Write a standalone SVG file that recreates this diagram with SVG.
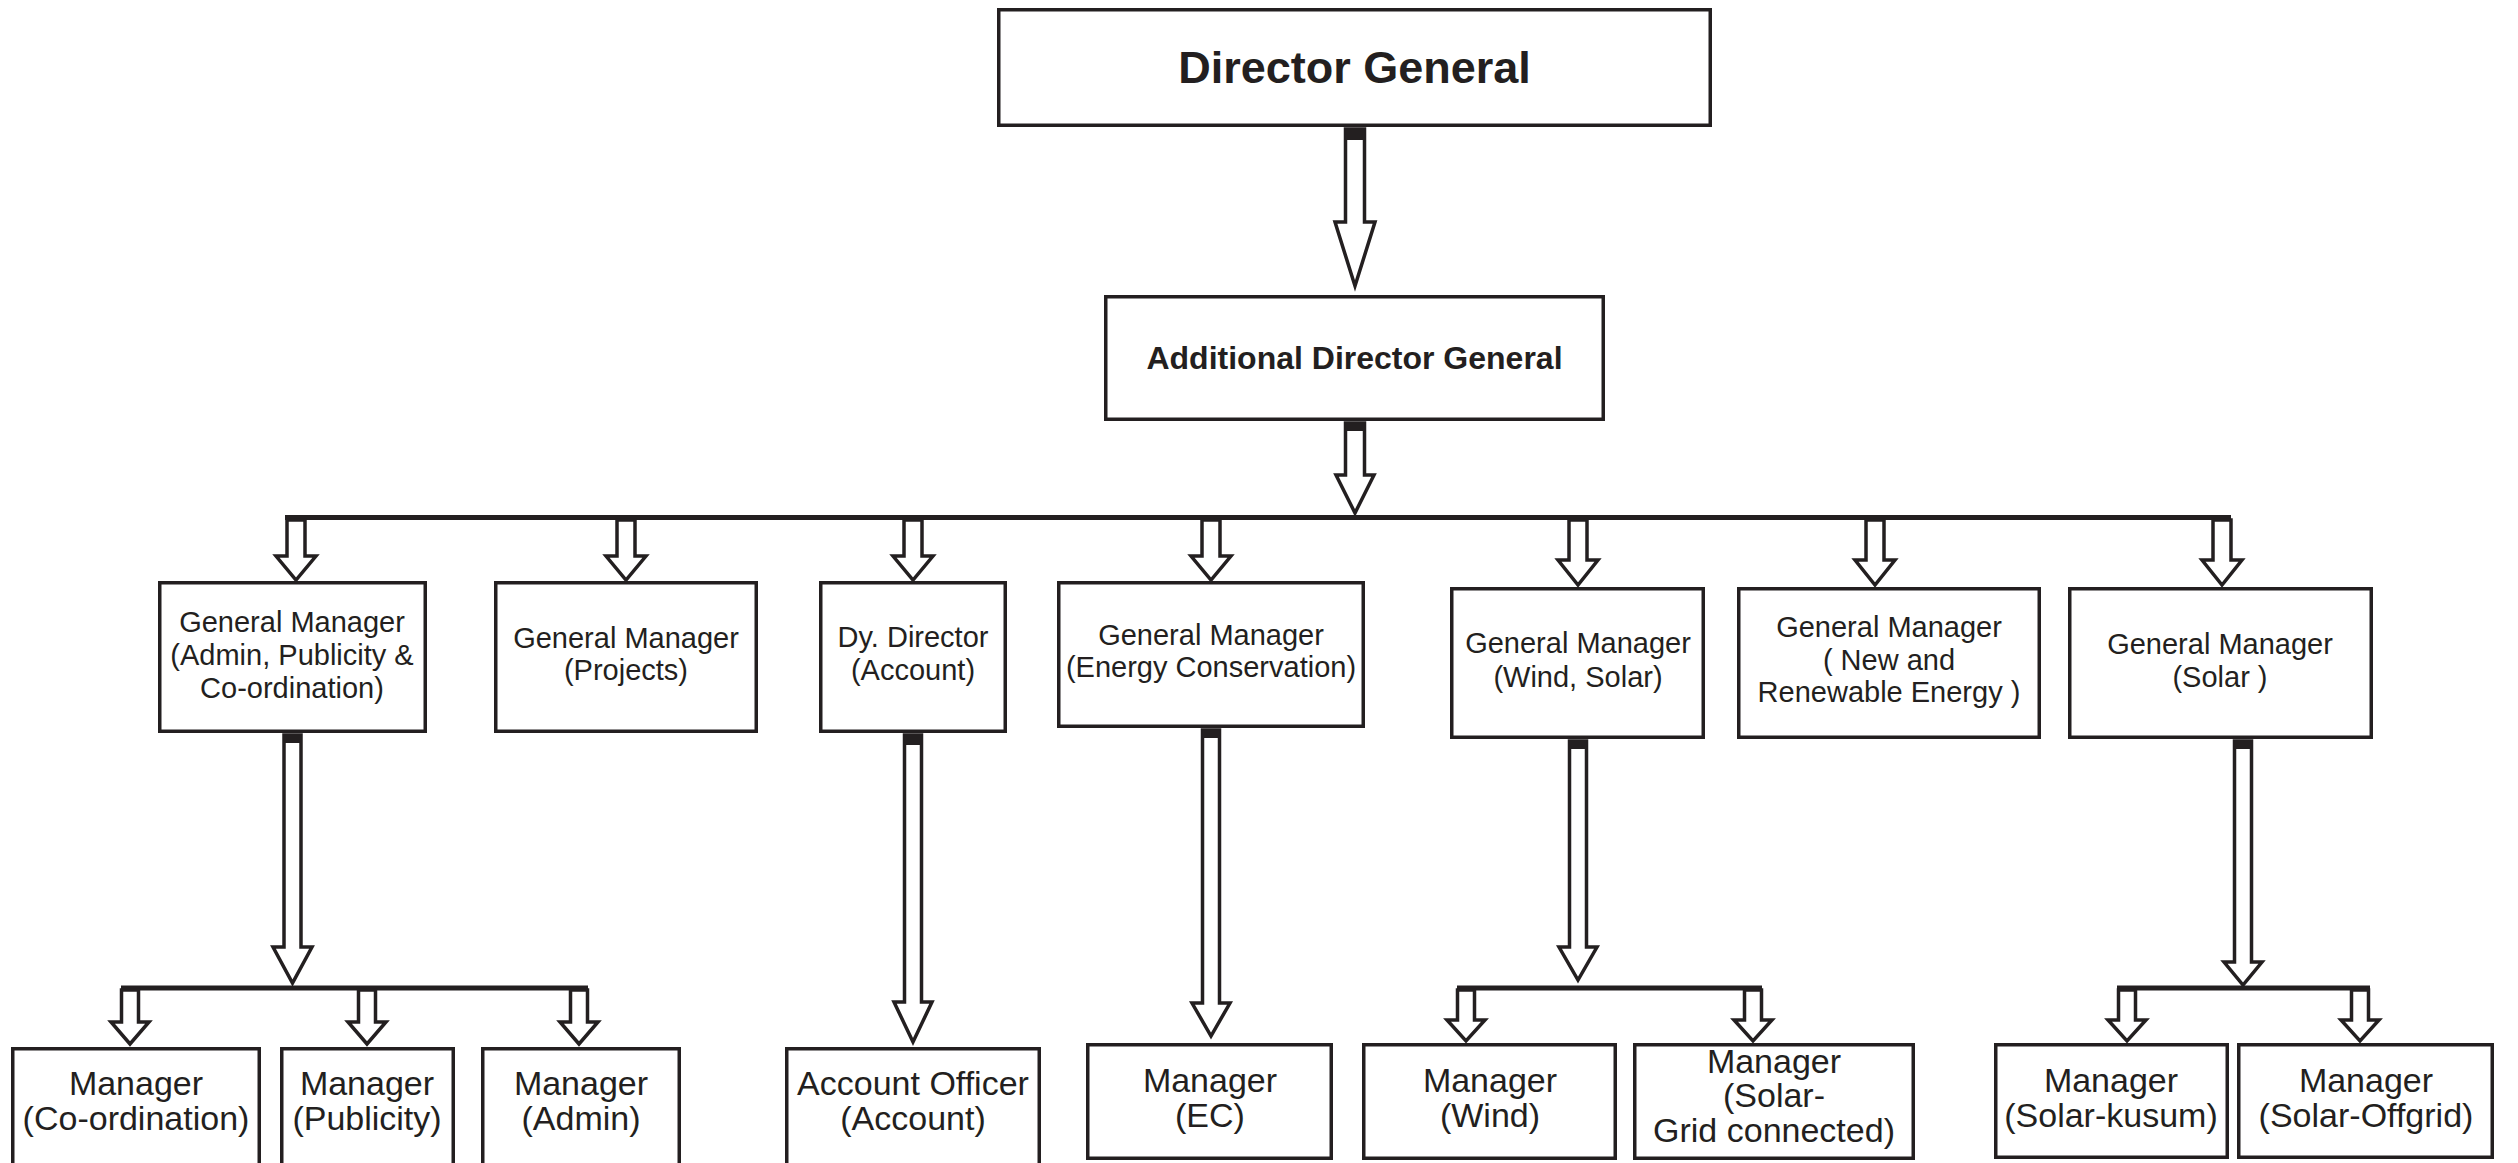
<svg xmlns="http://www.w3.org/2000/svg" width="2518" height="1163" viewBox="0 0 2518 1163">
<style>
.box{fill:#fff;stroke:#231f20;stroke-width:3.5}
.arr{fill:#fff;stroke:#231f20;stroke-width:3.5;stroke-linejoin:miter}
.bus{stroke:#231f20;stroke-width:5;fill:none}
.cap{fill:#231f20}
text{font-family:"Liberation Sans",Arial,sans-serif;fill:#231f20;text-anchor:middle}
.t2{font-size:29px}
.t3{font-size:34px}
.b1{font-size:45px;font-weight:bold}
.b2{font-size:32px;font-weight:bold}
</style>
<rect width="2518" height="1163" fill="#fff"/>
<g id="connectors">
  <polygon class="arr" points="1345.5,129 1364.5,129 1364.5,222 1375,222 1355,286 1335,222 1345.5,222"/>
  <rect class="cap" x="1345.5" y="129" width="19" height="11"/>
  <polygon class="arr" points="1345.5,423 1364.5,423 1364.5,475 1374,475 1355,513 1336,475 1345.5,475"/>
  <rect class="cap" x="1345.5" y="423" width="19" height="8"/>
  <line class="bus" x1="285" y1="517.5" x2="2231" y2="517.5"/>
  <polygon class="arr" points="287,520 305,520 305,556 316,556 296,580 276,556 287,556"/>
  <polygon class="arr" points="617,520 635,520 635,556 646,556 626,580 606,556 617,556"/>
  <polygon class="arr" points="904,520 922,520 922,556 933,556 913,580 893,556 904,556"/>
  <polygon class="arr" points="1202,520 1220,520 1220,556 1231,556 1211,580 1191,556 1202,556"/>
  <polygon class="arr" points="1569,520 1587,520 1587,560 1598,560 1578,585 1558,560 1569,560"/>
  <polygon class="arr" points="1866,520 1884,520 1884,560 1895,560 1875,585 1855,560 1866,560"/>
  <polygon class="arr" points="2213,520 2231,520 2231,560 2242,560 2222,585 2202,560 2213,560"/>
  <polygon class="arr" points="284,735 301,735 301,947 312,947 292.5,983 273,947 284,947"/>
  <rect class="cap" x="284" y="735" width="17" height="8"/>
  <line class="bus" x1="121" y1="988" x2="588" y2="988"/>
  <polygon class="arr" points="121.5,990 138.5,990 138.5,1022 149,1022 130,1044 111,1022 121.5,1022"/>
  <polygon class="arr" points="358.5,990 375.5,990 375.5,1022 386,1022 367,1044 348,1022 358.5,1022"/>
  <polygon class="arr" points="570.5,990 587.5,990 587.5,1022 598,1022 579,1044 560,1022 570.5,1022"/>
  <polygon class="arr" points="904.5,735 921.5,735 921.5,1002 932,1002 913,1042 894,1002 904.5,1002"/>
  <rect class="cap" x="904.5" y="735" width="17" height="10"/>
  <polygon class="arr" points="1202.5,730 1219.5,730 1219.5,1003 1230,1003 1211,1036 1192,1003 1202.5,1003"/>
  <rect class="cap" x="1202.5" y="730" width="17" height="8"/>
  <polygon class="arr" points="1569.5,741 1586.5,741 1586.5,947 1597,947 1578,980 1559,947 1569.5,947"/>
  <rect class="cap" x="1569.5" y="741" width="17" height="8"/>
  <line class="bus" x1="1457" y1="988" x2="1762" y2="988"/>
  <polygon class="arr" points="1457.5,990 1474.5,990 1474.5,1020 1485,1020 1466,1041 1447,1020 1457.5,1020"/>
  <polygon class="arr" points="1744.5,990 1761.5,990 1761.5,1020 1772,1020 1753,1041 1734,1020 1744.5,1020"/>
  <polygon class="arr" points="2234.5,741 2251.5,741 2251.5,962 2262,962 2243,985 2224,962 2234.5,962"/>
  <rect class="cap" x="2234.5" y="741" width="17" height="8"/>
  <line class="bus" x1="2117" y1="988" x2="2370" y2="988"/>
  <polygon class="arr" points="2118.5,990 2135.5,990 2135.5,1020 2146,1020 2127,1041 2108,1020 2118.5,1020"/>
  <polygon class="arr" points="2351.5,990 2368.5,990 2368.5,1020 2379,1020 2360,1041 2341,1020 2351.5,1020"/>
</g>
<g id="dg"><rect class="box" x="998.75" y="9.75" width="711.5" height="115.5"/><text class="b1" x="1354.5" y="83">Director General</text></g>
<g id="adg"><rect class="box" x="1105.75" y="296.75" width="497.5" height="122.5"/><text class="b2" x="1354.5" y="369">Additional Director General</text></g>
<g id="gm-admin"><rect class="box" x="159.75" y="582.75" width="265.5" height="148.5"/><text class="t2" x="292" y="632">General Manager</text><text class="t2" x="292" y="665">(Admin, Publicity &amp;</text><text class="t2" x="292" y="698">Co-ordination)</text></g>
<g id="gm-projects"><rect class="box" x="495.75" y="582.75" width="260.5" height="148.5"/><text class="t2" x="626" y="648">General Manager</text><text class="t2" x="626" y="680">(Projects)</text></g>
<g id="dy-director"><rect class="box" x="820.75" y="582.75" width="184.5" height="148.5"/><text class="t2" x="913" y="647">Dy. Director</text><text class="t2" x="913" y="680">(Account)</text></g>
<g id="gm-ec"><rect class="box" x="1058.75" y="582.75" width="304.5" height="143.5"/><text class="t2" x="1211" y="645">General Manager</text><text class="t2" x="1211" y="677">(Energy Conservation)</text></g>
<g id="gm-wind-solar"><rect class="box" x="1451.75" y="588.75" width="251.5" height="148.5"/><text class="t2" x="1578" y="653">General Manager</text><text class="t2" x="1578" y="687">(Wind, Solar)</text></g>
<g id="gm-nre"><rect class="box" x="1738.75" y="588.75" width="300.5" height="148.5"/><text class="t2" x="1889" y="637">General Manager</text><text class="t2" x="1889" y="670">( New and</text><text class="t2" x="1889" y="702">Renewable Energy )</text></g>
<g id="gm-solar"><rect class="box" x="2069.75" y="588.75" width="301.5" height="148.5"/><text class="t2" x="2220" y="654">General Manager</text><text class="t2" x="2220" y="687">(Solar )</text></g>
<g id="m-coord"><rect class="box" x="12.75" y="1048.75" width="246.5" height="130"/><text class="t3" x="136" y="1095">Manager</text><text class="t3" x="136" y="1130">(Co-ordination)</text></g>
<g id="m-publicity"><rect class="box" x="281.75" y="1048.75" width="171.5" height="130"/><text class="t3" x="367" y="1095">Manager</text><text class="t3" x="367" y="1130">(Publicity)</text></g>
<g id="m-admin"><rect class="box" x="482.75" y="1048.75" width="196.5" height="130"/><text class="t3" x="581" y="1095">Manager</text><text class="t3" x="581" y="1130">(Admin)</text></g>
<g id="account-officer"><rect class="box" x="786.75" y="1048.75" width="252.5" height="130"/><text class="t3" x="913" y="1095">Account Officer</text><text class="t3" x="913" y="1130">(Account)</text></g>
<g id="m-ec"><rect class="box" x="1087.75" y="1044.75" width="243.5" height="113.5"/><text class="t3" x="1210" y="1092">Manager</text><text class="t3" x="1210" y="1127">(EC)</text></g>
<g id="m-wind"><rect class="box" x="1363.75" y="1044.75" width="251.5" height="113.5"/><text class="t3" x="1490" y="1092">Manager</text><text class="t3" x="1490" y="1127">(Wind)</text></g>
<g id="m-solar-grid"><rect class="box" x="1634.75" y="1044.75" width="278.5" height="113.5"/><text class="t3" x="1774" y="1073">Manager</text><text class="t3" x="1774" y="1107">(Solar-</text><text class="t3" x="1774" y="1142">Grid connected)</text></g>
<g id="m-solar-kusum"><rect class="box" x="1995.75" y="1044.75" width="231.5" height="112.5"/><text class="t3" x="2111" y="1092">Manager</text><text class="t3" x="2111" y="1127">(Solar-kusum)</text></g>
<g id="m-solar-offgrid"><rect class="box" x="2238.75" y="1044.75" width="253.5" height="112.5"/><text class="t3" x="2366" y="1092">Manager</text><text class="t3" x="2366" y="1127">(Solar-Offgrid)</text></g>
</svg>
